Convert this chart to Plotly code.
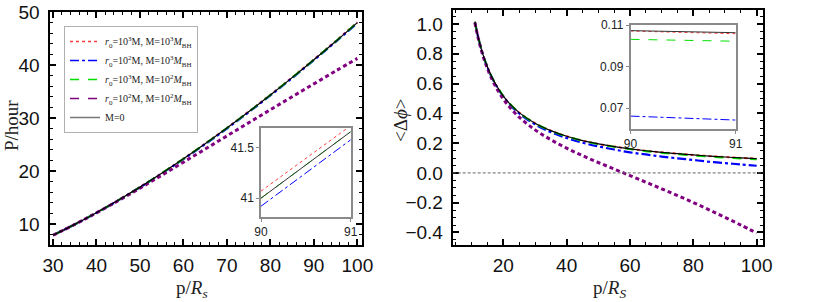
import plotly.graph_objects as go

# ---------------- data ----------------
p_left = [30, 35, 40, 45, 50, 55, 60, 65, 70, 75, 80, 85, 90, 95, 100]
P_red = [7.89, 9.95, 12.15, 14.51, 16.99, 19.61, 22.34, 25.19, 28.15, 31.23, 34.41, 37.69, 41.07, 44.53, 48.09]
P_blue = [7.88, 9.93, 12.12, 14.46, 16.93, 19.53, 22.25, 25.08, 28.03, 31.10, 34.27, 37.54, 40.92, 44.38, 47.93]
P_green = [7.89, 9.94, 12.14, 14.49, 16.97, 19.58, 22.31, 25.15, 28.11, 31.18, 34.35, 37.62, 40.99, 44.45, 48.00]
P_purple = [7.89, 9.93, 12.11, 14.40, 16.77, 19.20, 21.67, 24.15, 26.63, 29.10, 31.57, 34.02, 36.45, 38.87, 41.25]
P_M0 = [7.89, 9.94, 12.14, 14.49, 16.97, 19.58, 22.31, 25.15, 28.11, 31.18, 34.35, 37.62, 40.99, 44.45, 48.00]

p_inset = [90, 91]
P_in_red = [41.07, 41.72]
P_in_blue = [40.92, 41.58]
P_in_green = [41.00, 41.66]
P_in_M0 = [41.00, 41.66]

p_right = [11, 12, 13, 14, 15, 16, 18, 20, 22, 25, 30, 35, 40, 45, 50, 55, 60, 65, 70, 75, 80, 85, 90, 95, 100]
dphi_red = [1.015, 0.917, 0.835, 0.767, 0.710, 0.660, 0.580, 0.516, 0.465, 0.405, 0.334, 0.284, 0.246, 0.217,
            0.195, 0.177, 0.162, 0.149, 0.138, 0.129, 0.121, 0.113, 0.1068, 0.1008, 0.0958]
dphi_blue = [1.013, 0.915, 0.833, 0.764, 0.707, 0.657, 0.576, 0.512, 0.460, 0.399, 0.326, 0.274, 0.234, 0.2025,
             0.178, 0.157, 0.138, 0.124, 0.110, 0.098, 0.087, 0.075, 0.066, 0.057, 0.048]
dphi_green = [1.015, 0.917, 0.835, 0.767, 0.710, 0.660, 0.580, 0.516, 0.465, 0.405, 0.333, 0.283, 0.245, 0.216,
              0.193, 0.175, 0.160, 0.146, 0.135, 0.126, 0.117, 0.109, 0.103, 0.097, 0.091]
dphi_purple = [1.009, 0.910, 0.827, 0.757, 0.699, 0.647, 0.564, 0.496, 0.441, 0.374, 0.289, 0.223, 0.166, 0.116,
               0.070, 0.026, -0.018, -0.062, -0.107, -0.152, -0.199, -0.248, -0.298, -0.350, -0.404]
dphi_M0 = [1.015, 0.917, 0.835, 0.767, 0.710, 0.660, 0.580, 0.516, 0.465, 0.405, 0.334, 0.284, 0.246, 0.217,
           0.195, 0.177, 0.162, 0.149, 0.138, 0.129, 0.121, 0.113, 0.107, 0.101, 0.096]

dphi_in_red = [0.1071, 0.1058]
dphi_in_blue = [0.0662, 0.0643]
dphi_in_green = [0.1031, 0.1022]
dphi_in_M0 = [0.1073, 0.1063]

legend_names = [
    "<i>r</i><sub>0</sub>=10<sup>3</sup>M, M=10<sup>3</sup><i>M</i><sub>BH</sub>",
    "<i>r</i><sub>0</sub>=10<sup>2</sup>M, M=10<sup>3</sup><i>M</i><sub>BH</sub>",
    "<i>r</i><sub>0</sub>=10<sup>3</sup>M, M=10<sup>2</sup><i>M</i><sub>BH</sub>",
    "<i>r</i><sub>0</sub>=10<sup>2</sup>M, M=10<sup>2</sup><i>M</i><sub>BH</sub>",
    "M=0",
]

# ---------------- styles ----------------
RED = "#ff3b3b"
BLUE = "#0000ff"
GREEN = "#00e000"
PURPLE = "#800080"
BLACK = "#000000"

W, H = 814, 302


def dx(a, b):
    return [a / W, b / W]


def dy(top, bottom):
    return [1 - bottom / H, 1 - top / H]


fig = go.Figure()

main_styles = [
    (RED, "dot", 2),
    (BLUE, "dashdot", 2.2),
    (GREEN, "dash", 2),
    (PURPLE, "4px,3px", 3),
    (BLACK, "solid", 1.2),
]
left_series = [P_red, P_blue, P_green, P_purple, P_M0]
right_series = [dphi_red, dphi_blue, dphi_green, dphi_purple, dphi_M0]

for i, (ys, (c, d, w)) in enumerate(zip(left_series, main_styles)):
    fig.add_trace(go.Scatter(x=p_left, y=ys, mode="lines", line=dict(color=c, dash=d, width=w, shape="spline"),
                             name=legend_names[i], showlegend=False, xaxis="x", yaxis="y"))

# legend-only entries (thin lines as in the reference legend)
leg_styles = [
    (RED, "dot", 1.5),
    (BLUE, "dashdot", 1.5),
    (GREEN, "dash", 1.5),
    (PURPLE, "dash", 1.5),
    ("#777777", "solid", 1.5),
]
for i, (c, d, w) in enumerate(leg_styles):
    fig.add_trace(go.Scatter(x=[None], y=[None], mode="lines", line=dict(color=c, dash=d, width=w),
                             name=legend_names[i], showlegend=True, xaxis="x", yaxis="y"))

for i, (ys, (c, d, w)) in enumerate(zip(right_series, main_styles)):
    fig.add_trace(go.Scatter(x=p_right, y=ys, mode="lines", line=dict(color=c, dash=d, width=w, shape="spline"),
                             showlegend=False, xaxis="x2", yaxis="y2"))

inset_styles = [(RED, "dot", 1), (BLUE, "dashdot", 1), (GREEN, "dash", 1), ("#333333", "solid", 1)]
for ys, (c, d, w) in zip([P_in_red, P_in_blue, P_in_green, P_in_M0], inset_styles):
    fig.add_trace(go.Scatter(x=p_inset, y=ys, mode="lines", line=dict(color=c, dash=d, width=w),
                             showlegend=False, xaxis="x3", yaxis="y3"))
for ys, (c, d, w) in zip([dphi_in_red, dphi_in_blue, dphi_in_green, dphi_in_M0], inset_styles):
    fig.add_trace(go.Scatter(x=p_inset, y=ys, mode="lines", line=dict(color=c, dash=d, width=w),
                             showlegend=False, xaxis="x4", yaxis="y4"))

TICKFONT = dict(family="Liberation Sans, Arial, sans-serif", size=19, color="#111")
INFONT = dict(family="Liberation Sans, Arial, sans-serif", size=12, color="#222")


def main_axis(rng, dom, anchor, dtick, mdtick, **kw):
    return dict(range=rng, domain=dom, anchor=anchor, showline=True, linecolor="black", linewidth=2,
                mirror="allticks", ticks="inside", ticklen=6, tickwidth=1.5, tickcolor="black",
                dtick=dtick, tick0=0, showgrid=False, zeroline=False, tickfont=TICKFONT,
                minor=dict(dtick=mdtick, ticks="inside", ticklen=3, tickwidth=1.2, tickcolor="black", showgrid=False),
                **kw)


def inset_axis(rng, dom, anchor, vals, texts):
    return dict(range=rng, domain=dom, anchor=anchor, showline=True, linecolor="#8a8a8a", linewidth=1.5,
                mirror=True, ticks="outside", ticklen=3, tickwidth=1, tickcolor="#8a8a8a",
                tickvals=vals, ticktext=texts, showgrid=False, zeroline=False, tickfont=INFONT)


fig.update_layout(
    width=W, height=H, margin=dict(l=0, r=0, t=0, b=0, autoexpand=False),
    paper_bgcolor="white", plot_bgcolor="white",
    xaxis=main_axis([29.2, 101], dx(49.5, 361.7), "y", 10, 2, ticklabelstandoff=2),
    yaxis=main_axis([6.05, 50.1], dy(11.5, 245), "x", 10, 2, ticklabelstandoff=4),
    xaxis2=main_axis([4.0, 102.1], dx(452.7, 763.3), "y2", 20, 5, ticklabelstandoff=2),
    yaxis2=main_axis([-0.484, 1.094], dy(10, 245), "x2", 0.2, 0.05, ticklabelstandoff=4, tickformat=".1f"),
    xaxis3=inset_axis([90, 91], dx(261, 350.7), "y3", [90, 91], ["90", "91"]),
    yaxis3=inset_axis([40.81, 41.70], dy(127.7, 217.3), "x3", [41, 41.5], ["41", "41.5"]),
    xaxis4=inset_axis([90, 91], dx(630.5, 735.7), "y4", [90, 91], ["90", "91"]),
    yaxis4=inset_axis([0.06, 0.11], dy(25, 129), "x4", [0.07, 0.09, 0.11], ["0.07", "0.09", "0.11"]),
    legend=dict(x=64 / W, y=1 - 26 / H, xanchor="left", yanchor="top", bgcolor="white",
                bordercolor="#b0b0b0", borderwidth=1,
                font=dict(family="Liberation Serif, Times New Roman, serif", size=10, color="#222"),
                itemwidth=30, tracegroupgap=0),
    shapes=[dict(type="line", xref="x2 domain", x0=0, x1=1, yref="y2", y0=0, y1=0,
                 line=dict(color="#666666", width=1, dash="3px,2px"))],
)

LABFONT = dict(family="Liberation Serif, Times New Roman, serif", size=19, color="#222")
fig.add_annotation(text="P/hour", x=11 / W, y=1 - 126 / H, xref="paper", yref="paper", showarrow=False,
                   textangle=-90, font=LABFONT, xanchor="center", yanchor="middle")
fig.add_annotation(text="p/<i>R</i><sub><i>s</i></sub>", x=192 / W, y=1 - 289 / H, xref="paper", yref="paper",
                   showarrow=False, font=LABFONT, xanchor="center", yanchor="middle")
fig.add_annotation(text="&lt;Δ<i>ϕ</i>&gt;", x=400 / W, y=1 - 120 / H, xref="paper", yref="paper",
                   showarrow=False, textangle=-90, font=LABFONT, xanchor="center", yanchor="middle")
fig.add_annotation(text="p/<i>R</i><sub><i>S</i></sub>", x=609 / W, y=1 - 289 / H, xref="paper", yref="paper",
                   showarrow=False, font=LABFONT, xanchor="center", yanchor="middle")

fig.write_html("out.html", config={"displayModeBar": False},
               post_script="document.body.style.margin='0';document.body.style.padding='0';")
